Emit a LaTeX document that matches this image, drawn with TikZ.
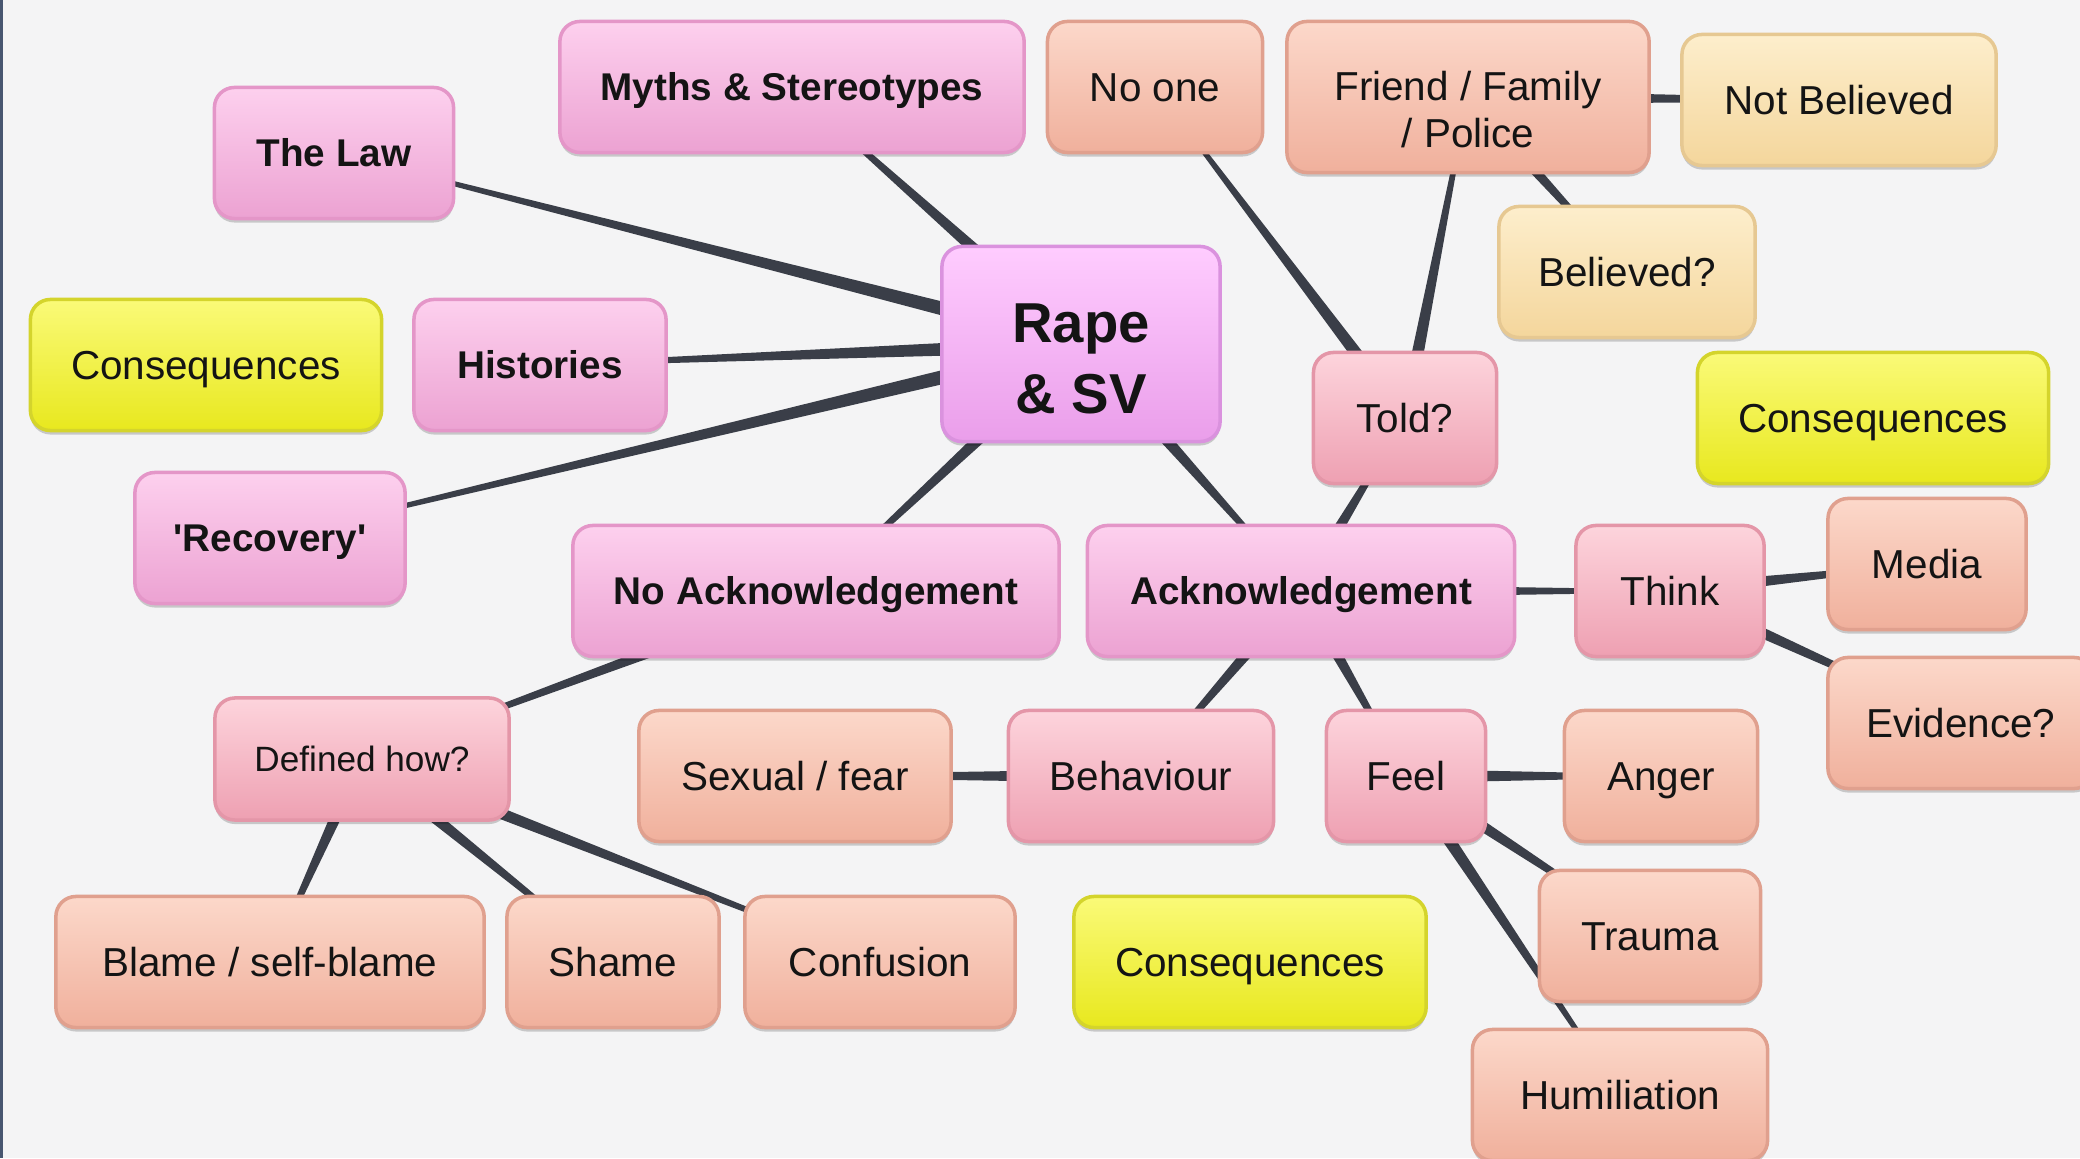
\documentclass[tikz,border=0pt]{standalone}
\usepackage{fontspec}
\setmainfont{Liberation Sans}
\font\quotefont="Liberation Sans/B" at 11pt
\usetikzlibrary{calc,shadows,backgrounds}
\definecolor{bgpage}{RGB}{244,244,245}
\definecolor{edgeblue}{RGB}{72,86,112}
\definecolor{linkgray}{RGB}{58,62,72}
\definecolor{centretop}{RGB}{255,204,255}
\definecolor{centrebot}{RGB}{234,158,234}
\definecolor{centreline}{RGB}{218,146,222}
\definecolor{topictop}{RGB}{253,208,238}
\definecolor{topicbot}{RGB}{236,162,210}
\definecolor{topicline}{RGB}{228,150,200}
\definecolor{querytop}{RGB}{253,212,220}
\definecolor{querybot}{RGB}{238,160,178}
\definecolor{queryline}{RGB}{228,150,168}
\definecolor{leaftop}{RGB}{252,216,202}
\definecolor{leafbot}{RGB}{240,176,156}
\definecolor{leafline}{RGB}{224,160,142}
\definecolor{answertop}{RGB}{253,238,204}
\definecolor{answerbot}{RGB}{244,214,156}
\definecolor{answerline}{RGB}{230,200,146}
\definecolor{conseqtop}{RGB}{250,250,120}
\definecolor{conseqbot}{RGB}{232,232,30}
\definecolor{conseqline}{RGB}{212,212,44}

% tapered branch: thick at the parent, thin at the child
\newcommand{\branch}[3][0.07cm]{%
  \fill[linkgray] ($(#2.center)!#1!90:(#3.center)$) -- ($(#2.center)!#1!-90:(#3.center)$)
    -- ($(#3.center)!0.015cm!90:(#2.center)$) -- ($(#3.center)!0.015cm!-90:(#2.center)$) -- cycle;}

\tikzset{
  box/.style={rounded corners=0.2cm, line width=1pt, minimum height=1.31cm, inner sep=0pt,
    align=center, text=black!92, font=\fontsize{11.5}{13.4}\selectfont,
    text height=8.2pt, text depth=0pt,
    drop shadow={shadow xshift=0pt, shadow yshift=-0.04cm, opacity=0.18, fill=black}},
  centre/.style={box, draw=centreline, top color=centretop, bottom color=centrebot,
    font=\fontsize{16}{20.2}\selectfont\bfseries, text height=39.7pt, text depth=0pt},
  topic/.style={box, draw=topicline, top color=topictop, bottom color=topicbot,
    font=\fontsize{11}{13.4}\selectfont\bfseries, text height=7.9pt},
  query/.style={box, draw=queryline, top color=querytop, bottom color=querybot},
  leaf/.style={box, draw=leafline, top color=leaftop, bottom color=leafbot},
  answer/.style={box, draw=answerline, top color=answertop, bottom color=answerbot},
  conseq/.style={box, draw=conseqline, top color=conseqtop, bottom color=conseqbot}
}

\begin{document}
\begin{tikzpicture}[x=0.01cm, y=-0.01cm]
  \useasboundingbox (0,0) rectangle (2080,1158);
  % Centre
  \node[centre, minimum width=2.78cm, minimum height=1.95cm] (rape) at (1081,344) {Rape\\\& SV};
  % Main topics
  \node[topic, minimum width=4.64cm] (myths) at (792,87) {Myths \& Stereotypes};
  \node[topic, minimum width=2.39cm] (law) at (334,153) {The Law};
  \node[topic, minimum width=2.52cm] (hist) at (540,365) {Histories};
  \node[topic, minimum width=2.70cm] (recov) at (270,538) {\quotefont 'Recovery'};
  \node[topic, minimum width=4.86cm] (noack) at (816,591) {No Acknowledgement};
  \node[topic, minimum width=4.27cm] (ack) at (1301,591) {Acknowledgement};
  % Told branch
  \node[query, minimum width=1.83cm] (told) at (1405,418) {Told?};
  \node[leaf, minimum width=2.15cm] (noone) at (1155,87) {No one};
  \node[leaf, minimum width=3.62cm, minimum height=1.51cm, text height=29pt] (friend) at (1468,97) {Friend / Family\\/ Police};
  \node[answer, minimum width=3.14cm] (notbel) at (1839,100) {Not Believed};
  \node[answer, minimum width=2.56cm] (bel) at (1627,272) {Believed?};
  % Think branch
  \node[query, minimum width=1.88cm] (think) at (1670,591) {Think};
  \node[leaf, minimum width=1.98cm] (media) at (1927,564) {Media};
  \node[leaf, minimum width=2.66cm] (evid) at (1961,723) {Evidence?};
  % Behaviour and Feel branches
  \node[query, minimum width=2.65cm] (behav) at (1141,776) {Behaviour};
  \node[leaf, minimum width=3.12cm] (sexual) at (795,776) {Sexual / fear};
  \node[query, minimum width=1.59cm] (feel) at (1406,776) {Feel};
  \node[leaf, minimum width=1.93cm] (anger) at (1661,776) {Anger};
  \node[leaf, minimum width=2.21cm] (trauma) at (1650,936) {Trauma};
  \node[leaf, minimum width=2.95cm] (humil) at (1620,1095) {Humiliation};
  % Defined branch
  \node[query, minimum width=2.94cm, minimum height=1.22cm, font=\fontsize{10}{12}\selectfont, text height=7.2pt] (defined) at (362,759) {Defined how?};
  \node[leaf, minimum width=4.28cm] (blame) at (270,962) {Blame / self-blame};
  \node[leaf, minimum width=2.12cm] (shame) at (613,962) {Shame};
  \node[leaf, minimum width=2.70cm] (confus) at (880,962) {Confusion};
  % Consequences
  \node[conseq, minimum width=3.51cm] (conseqL) at (206,365) {Consequences};
  \node[conseq, minimum width=3.51cm] (conseqR) at (1873,418) {Consequences};
  \node[conseq, minimum width=3.52cm] (conseqB) at (1250,962) {Consequences};
  % Page and branches behind the boxes
  \begin{scope}[on background layer]
    \fill[bgpage] (0,0) rectangle (2080,1158);
    \fill[edgeblue] (0,0) rectangle (3,1158);
    \branch[0.08cm]{rape}{myths}
    \branch[0.08cm]{rape}{law}
    \branch[0.08cm]{rape}{hist}
    \branch[0.08cm]{rape}{recov}
    \branch[0.08cm]{rape}{noack}
    \branch[0.08cm]{rape}{ack}
    \branch{ack}{told}
    \branch{told}{noone}
    \branch{told}{friend}
    \branch{friend}{notbel}
    \branch{friend}{bel}
    \branch{ack}{think}
    \branch{think}{media}
    \branch{think}{evid}
    \branch{ack}{behav}
    \branch{behav}{sexual}
    \branch{ack}{feel}
    \branch{feel}{anger}
    \branch{feel}{trauma}
    \branch{feel}{humil}
    \branch{noack}{defined}
    \branch{defined}{blame}
    \branch{defined}{shame}
    \branch{defined}{confus}
  \end{scope}
\end{tikzpicture}
\end{document}
